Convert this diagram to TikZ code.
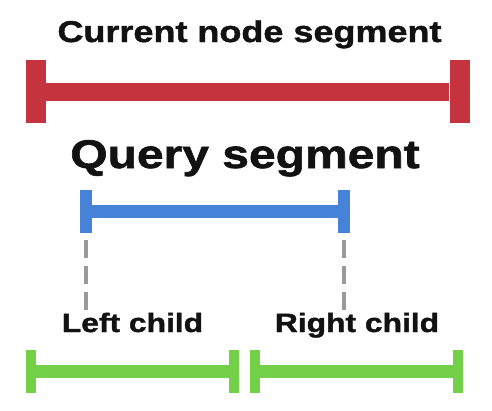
\documentclass[tikz,border=0pt]{standalone}
\usepackage{fontspec}
\setmainfont{Liberation Sans}
\newfontfamily\labelfont[FakeStretch=1.2,FakeBold=1.5]{Liberation Sans}

\definecolor{segred}{HTML}{C5343E}
\definecolor{segblue}{HTML}{4682D8}
\definecolor{seggreen}{HTML}{74CF49}
\definecolor{guidegray}{HTML}{9A9A9A}

\begin{document}
\begin{tikzpicture}[x=1pt,y=-1pt,
                    endbar/.style={rectangle,inner sep=0pt,fill=#1,draw=none},
                    curbar/.style={endbar=segred,minimum width=20pt,minimum height=63pt},
                    querybar/.style={endbar=segblue,minimum width=12pt,minimum height=43pt},
                    childbar/.style={endbar=seggreen,minimum width=10pt,minimum height=43pt},
                    title/.style={font={\labelfont\bfseries\fontsize{#1}{#1}\selectfont},
                                  text=black!93,inner sep=0pt,anchor=base},
                    dashline/.style={draw=guidegray,line width=4pt,
                                     dash pattern=on 18pt off 8pt,shorten <=7pt}]
   \useasboundingbox (0,0) rectangle (492,410);
   % labels
   \node[title=30]   (cur)   at (249.5,42) {Current node segment};
   \node[title=40]   (query) at (245,168)  {Query segment};
   \node[title=26.5] (left)  at (132.5,332) {Left child};
   \node[title=26.5] (right) at (357,332)  {Right child};
   % current node segment
   \node[curbar] (cl) at (36,91.5) {};
   \node[curbar] (cr) at (459.5,91.5) {};
   \draw[segred,line width=18pt] (cl) -- (cr);
   % query segment
   \node[querybar] (ql) at (86,211.5) {};
   \node[querybar] (qr) at (344,211.5) {};
   \draw[segblue,line width=13pt] (ql) -- (qr);
   % children
   \node[childbar] (ll) at (31,371.5) {};
   \node[childbar] (lr) at (234,371.5) {};
   \node[childbar] (rl) at (255,371.5) {};
   \node[childbar] (rr) at (458,371.5) {};
   \draw[seggreen,line width=13pt] (ll) -- (lr);
   \draw[seggreen,line width=13pt] (rl) -- (rr);
   % guides
   \coordinate (lend) at (86,310);
   \coordinate (rend) at (344,310);
   \draw[dashline] (ql.south) -- (lend);
   \draw[dashline] (qr.south) -- (rend);
\end{tikzpicture}
\end{document}
